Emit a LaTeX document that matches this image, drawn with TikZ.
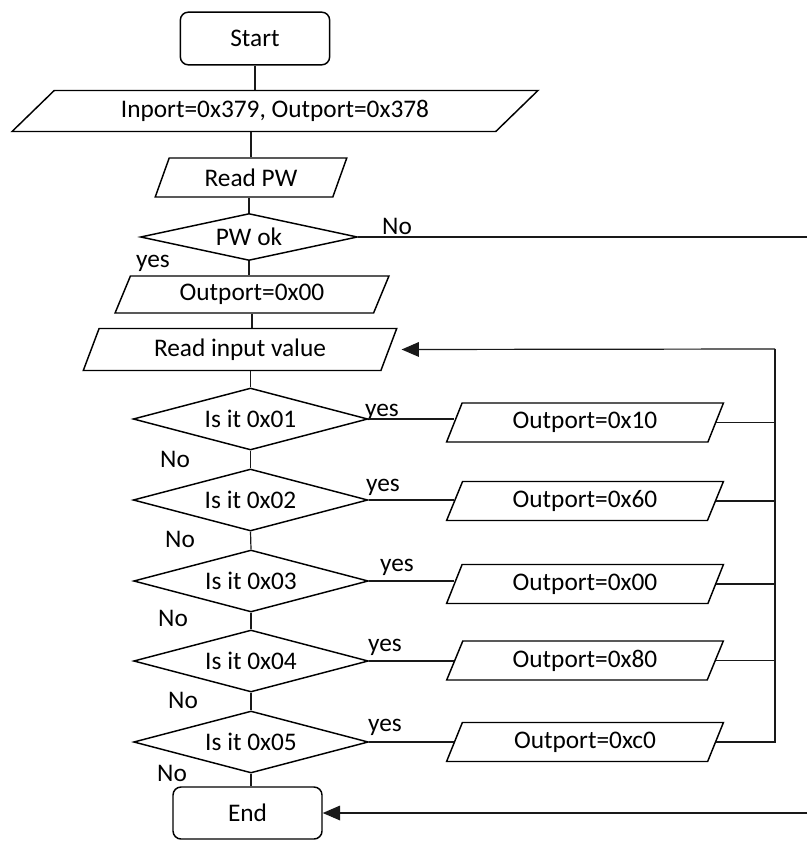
\documentclass[tikz,border=0pt]{standalone}
\usepackage{fontspec}
\setmainfont{Carlito}
\usetikzlibrary{shapes.geometric,arrows.meta}
\tikzset{
  termbox/.style={draw=black, line width=1.1pt, rounded corners=6pt, minimum width=112pt, minimum height=39.5pt, inner sep=0pt},
  iobox/.style={trapezium, trapezium left angle=66, trapezium right angle=114, trapezium stretches=true, draw=black, line width=1.1pt, inner sep=0pt},
  widebox/.style={iobox, trapezium left angle=36, trapezium right angle=144},
  decision/.style={diamond, aspect=3.79, draw=black, line width=1.1pt, minimum width=176pt, minimum height=46.5pt, inner sep=0pt},
  flowlabel/.style={inner sep=0pt},
  stroke/.style={line width=0.9pt, draw=black!90},
  backarrow/.style={stroke, -{Triangle[length=13pt, width=11pt]}},
}
\begin{document}
\begin{tikzpicture}[x=0.75pt, y=-0.75pt, font=\fontsize{19}{22}\selectfont]
\useasboundingbox (0,0) rectangle (807,841);
% main column
\node[termbox] (start) at (255,38.5) {Start};
\node[widebox, minimum width=394.5pt, minimum height=30.75pt] (inport) at (275,111) {Inport=0x379, Outport=0x378};
\node[iobox, minimum width=144.75pt, minimum height=29.25pt] (readpw) at (251,177.5) {Read PW};
\node[decision, aspect=4.6, minimum width=162.75pt, minimum height=35.25pt] (pwok) at (249,237) {PW ok};
\node[iobox, minimum width=205.5pt, minimum height=27.75pt] (outzero) at (252,294.5) {Outport=0x00};
\node[iobox, minimum width=235.5pt, minimum height=31.5pt] (readin) at (240,349.5) {Read input value};
\node[decision] (chk1) at (250.5,419) {Is it 0x01};
\node[decision] (chk2) at (250.5,500) {Is it 0x02};
\node[decision] (chk3) at (251,581) {Is it 0x03};
\node[decision] (chk4) at (251,661) {Is it 0x04};
\node[decision] (chk5) at (251,742) {Is it 0x05};
\node[termbox, minimum width=111.75pt, minimum height=39pt] (fin) at (247.5,813) {End};
% yes column
\node[iobox, minimum width=207.75pt, minimum height=29.25pt] (out1) at (585,422.5) {Outport=0x10};
\node[iobox, minimum width=207.75pt, minimum height=29.25pt] (out2) at (585,501) {Outport=0x60};
\node[iobox, minimum width=207.75pt, minimum height=29.25pt] (out3) at (585,584) {Outport=0x00};
\node[iobox, minimum width=207.75pt, minimum height=29.25pt] (out4) at (585,660.5) {Outport=0x80};
\node[iobox, minimum width=207.75pt, minimum height=29.25pt] (out5) at (585,742) {Outport=0xc0};
\coordinate (bus) at (775,349);
\coordinate (noexit) at (807,237);
\coordinate (endentry) at (807,813);
% labels
\node[flowlabel] (pwno) at (397,226) {No};
\node[flowlabel] (pwyes) at (153,263) {yes};
\node[flowlabel] (yes1) at (382,412) {yes};
\node[flowlabel] (yes2) at (383,487) {yes};
\node[flowlabel] (yes3) at (397,567) {yes};
\node[flowlabel] (yes4) at (385,647) {yes};
\node[flowlabel] (yes5) at (385,727) {yes};
\node[flowlabel] (no1) at (175,459) {No};
\node[flowlabel] (no2) at (180,539) {No};
\node[flowlabel] (no3) at (173,618) {No};
\node[flowlabel] (no4) at (183,700) {No};
\node[flowlabel] (no5) at (172,773) {No};
% connectors
\draw[stroke] (start.south) -- (start.south |- inport.north);
\draw[stroke] (readpw.north |- inport.south) -- (readpw.north);
\draw[stroke] (pwok.north |- readpw.south) -- (pwok.north);
\draw[stroke] (pwok.south) -- (pwok.south |- outzero.north);
\draw[stroke] (outzero.south) -- (outzero.south |- readin.north);
\draw[stroke] (chk1.north |- readin.south) -- (chk1.north);
\draw[stroke] (chk1.south) -- (chk2.north);
\draw[stroke] (chk2.south) -- (chk3.north);
\draw[stroke] (chk3.south) -- (chk4.north);
\draw[stroke] (chk4.south) -- (chk5.north);
\draw[stroke] (chk5.south) -- (chk5.south |- fin.north);
\draw[stroke] (pwok.east) -- (noexit);
\draw[stroke] (chk1.east) -- (chk1.east -| out1.west);
\draw[stroke] (chk2.east) -- (chk2.east -| out2.west);
\draw[stroke] (chk3.east) -- (chk3.east -| out3.west);
\draw[stroke] (chk4.east) -- (chk4.east -| out4.west);
\draw[stroke] (chk5.east) -- (chk5.east -| out5.west);
\draw[stroke] (out1.east) -- (out1.east -| bus);
\draw[stroke] (out2.east) -- (out2.east -| bus);
\draw[stroke] (out3.east) -- (out3.east -| bus);
\draw[stroke] (out4.east) -- (out4.east -| bus);
\draw[stroke] (out5.east) -- (out5.east -| bus) -- (bus);
\draw[backarrow] (bus) -- ([xshift=9pt]readin.east);
\draw[backarrow] (endentry) -- (fin.east);
\end{tikzpicture}
\end{document}
